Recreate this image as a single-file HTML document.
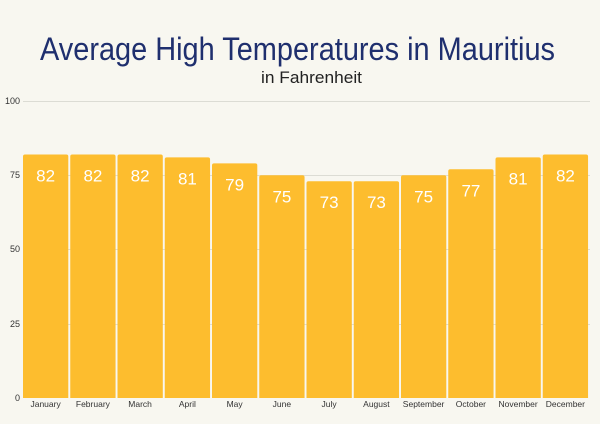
<!DOCTYPE html>
<html><head><meta charset="utf-8"><style>
html,body{margin:0;padding:0;background:#f8f7f0;}
svg{display:block;font-family:"Liberation Sans",sans-serif;}
</style></head><body>
<svg width="600" height="424" viewBox="0 0 600 424">
<rect width="600" height="424" fill="#f8f7f0"/>
<text x="40" y="60" font-size="32" fill="#1f2f6e" textLength="515" lengthAdjust="spacingAndGlyphs">Average High Temperatures in Mauritius</text>
<text x="261" y="83" font-size="17" fill="#222" textLength="101" lengthAdjust="spacingAndGlyphs">in Fahrenheit</text>
<g stroke="#dcdcd4" stroke-width="1">
<line x1="23" y1="101.5" x2="590" y2="101.5"/>
<line x1="23" y1="175.5" x2="590" y2="175.5"/>
<line x1="23" y1="249.5" x2="590" y2="249.5"/>
<line x1="23" y1="324.5" x2="590" y2="324.5"/>
</g>
<g fill="#fdbd2e">
<rect x="23" y="154.5" width="45.3" height="246" rx="2"/>
<rect x="70.25" y="154.5" width="45.3" height="246" rx="2"/>
<rect x="117.5" y="154.5" width="45.3" height="246" rx="2"/>
<rect x="164.75" y="157.4" width="45.3" height="243" rx="2"/>
<rect x="212" y="163.4" width="45.3" height="237" rx="2"/>
<rect x="259.25" y="175.3" width="45.3" height="225" rx="2"/>
<rect x="306.5" y="181.2" width="45.3" height="219" rx="2"/>
<rect x="353.75" y="181.2" width="45.3" height="219" rx="2"/>
<rect x="401" y="175.3" width="45.3" height="225" rx="2"/>
<rect x="448.25" y="169.3" width="45.3" height="231" rx="2"/>
<rect x="495.5" y="157.4" width="45.3" height="243" rx="2"/>
<rect x="542.75" y="154.5" width="45.3" height="246" rx="2"/>
</g>
<rect x="0" y="398" width="600" height="26" fill="#f8f7f0"/>
<g font-size="9" fill="#333" text-anchor="end">
<text x="20" y="104">100</text>
<text x="20" y="178">75</text>
<text x="20" y="252">50</text>
<text x="20" y="327">25</text>
<text x="20" y="401">0</text>
</g>
<g font-size="17" fill="#fff" text-anchor="middle">
<text x="45.6" y="181.5">82</text>
<text x="92.9" y="181.5">82</text>
<text x="140.1" y="181.5">82</text>
<text x="187.4" y="184.4">81</text>
<text x="234.6" y="190.4">79</text>
<text x="281.9" y="202.3">75</text>
<text x="329.1" y="208.2">73</text>
<text x="376.4" y="208.2">73</text>
<text x="423.6" y="202.3">75</text>
<text x="470.9" y="196.3">77</text>
<text x="518.1" y="184.4">81</text>
<text x="565.4" y="181.5">82</text>
</g>
<g font-size="8.5" fill="#333" text-anchor="middle">
<text x="45.6" y="407">January</text>
<text x="92.9" y="407">February</text>
<text x="140.1" y="407">March</text>
<text x="187.4" y="407">April</text>
<text x="234.6" y="407">May</text>
<text x="281.9" y="407">June</text>
<text x="329.1" y="407">July</text>
<text x="376.4" y="407">August</text>
<text x="423.6" y="407">September</text>
<text x="470.9" y="407">October</text>
<text x="518.1" y="407">November</text>
<text x="565.4" y="407">December</text>
</g>
</svg>
</body></html>
